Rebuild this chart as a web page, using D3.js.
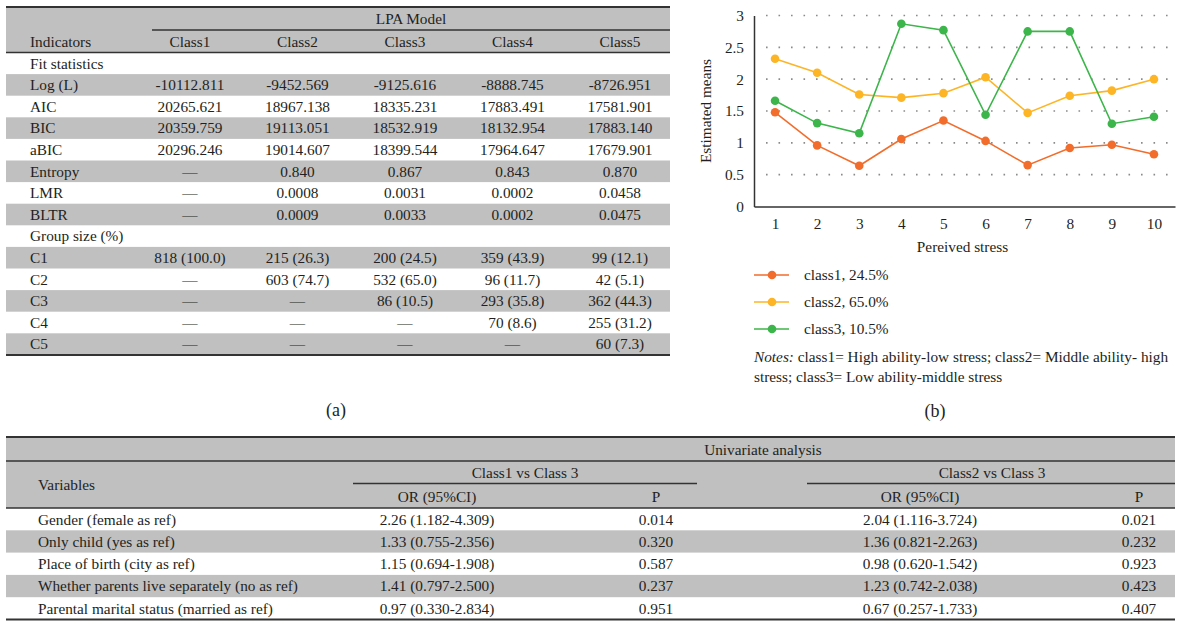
<!DOCTYPE html>
<html>
<head>
<meta charset="utf-8">
<script src="https://cdn.jsdelivr.net/npm/d3@7"></script>
<style>
  html, body { margin: 0; padding: 0; background: #fff; }
  svg text { font-family: "Liberation Serif", "DejaVu Serif", serif; fill: #231f20; }
</style>
</head>
<body>
<svg id="fig" width="1178" height="624"></svg>
<script>
// ---- (a) LPA model fit table ----
const modelColumns = ["Class1", "Class2", "Class3", "Class4", "Class5"];
const fitLabels = ["Log (L)", "AIC", "BIC", "aBIC", "Entropy", "LMR", "BLTR"];
const fitValues = [
  ["-10112.811", "-9452.569", "-9125.616", "-8888.745", "-8726.951"],
  ["20265.621", "18967.138", "18335.231", "17883.491", "17581.901"],
  ["20359.759", "19113.051", "18532.919", "18132.954", "17883.140"],
  ["20296.246", "19014.607", "18399.544", "17964.647", "17679.901"],
  ["—", "0.840", "0.867", "0.843", "0.870"],
  ["—", "0.0008", "0.0031", "0.0002", "0.0458"],
  ["—", "0.0009", "0.0033", "0.0002", "0.0475"]
];
const groupLabels = ["C1", "C2", "C3", "C4", "C5"];
const groupValues = [
  ["818 (100.0)", "215 (26.3)", "200 (24.5)", "359 (43.9)", "99 (12.1)"],
  ["—", "603 (74.7)", "532 (65.0)", "96 (11.7)", "42 (5.1)"],
  ["—", "—", "86 (10.5)", "293 (35.8)", "362 (44.3)"],
  ["—", "—", "—", "70 (8.6)", "255 (31.2)"],
  ["—", "—", "—", "—", "60 (7.3)"]
];

// ---- (b) estimated means per perceived-stress item ----
const stressItems = [1, 2, 3, 4, 5, 6, 7, 8, 9, 10];
const class1Means = [1.48, 0.96, 0.64, 1.06, 1.35, 1.03, 0.65, 0.92, 0.97, 0.82];
const class2Means = [2.32, 2.10, 1.76, 1.71, 1.78, 2.03, 1.47, 1.74, 1.82, 2.00];
const class3Means = [1.66, 1.31, 1.15, 2.87, 2.77, 1.44, 2.75, 2.75, 1.30, 1.41];
const seriesNames = ["class1, 24.5%", "class2, 65.0%", "class3, 10.5%"];
const seriesColors = ["#f26d2b", "#fdb525", "#3cb54a"];
const yTickValues = [0, 0.5, 1, 1.5, 2, 2.5, 3];

// ---- (c) univariate analysis table ----
const uniVariables = [
  "Gender (female as ref)",
  "Only child (yes as ref)",
  "Place of birth (city as ref)",
  "Whether parents live separately (no as ref)",
  "Parental marital status (married as ref)"
];
const class1vs3OR = ["2.26 (1.182-4.309)", "1.33 (0.755-2.356)", "1.15 (0.694-1.908)", "1.41 (0.797-2.500)", "0.97 (0.330-2.834)"];
const class1vs3P = ["0.014", "0.320", "0.587", "0.237", "0.951"];
const class2vs3OR = ["2.04 (1.116-3.724)", "1.36 (0.821-2.263)", "0.98 (0.620-1.542)", "1.23 (0.742-2.038)", "0.67 (0.257-1.733)"];
const class2vs3P = ["0.021", "0.232", "0.923", "0.423", "0.407"];

const svg = d3.select("#fig");
const GRAY = "#c0c0c0";
const INK = "#333";
const FS = 15.3;

function hline(g, x1, x2, y, w) {
  g.append("line").attr("x1", x1).attr("x2", x2).attr("y1", y).attr("y2", y)
    .attr("stroke", INK).attr("stroke-width", w);
}
function txt(g, x, y, s, anchor) {
  return g.append("text").attr("x", x).attr("y", y).attr("dy", "0.35em")
    .attr("text-anchor", anchor || "start").attr("font-size", FS).text(s);
}

// ================= Table (a) =================
(function () {
  const g = svg.append("g");
  const x0 = 6, x1 = 670, top = 7, sub = 30, head = 52.5, rowH = 21.6;
  const colX = d3.scalePoint().domain(modelColumns).range([190, 620]);

  const rows = [{ label: "Fit statistics", vals: null }]
    .concat(fitLabels.map((l, i) => ({ label: l, vals: fitValues[i] })))
    .concat([{ label: "Group size (%)", vals: null }])
    .concat(groupLabels.map((l, i) => ({ label: l, vals: groupValues[i] })));

  g.append("rect").attr("x", x0).attr("y", top).attr("width", x1 - x0).attr("height", head - top).attr("fill", GRAY);
  rows.forEach((r, i) => {
    const y = head + i * rowH;
    if (i % 2 === 1) g.append("rect").attr("x", x0).attr("y", y).attr("width", x1 - x0).attr("height", rowH).attr("fill", GRAY);
    txt(g, 30, y + rowH / 2, r.label);
    if (r.vals) r.vals.forEach((v, j) => txt(g, colX(modelColumns[j]), y + rowH / 2, v, "middle"));
  });
  const bottom = head + rows.length * rowH;

  txt(g, 411, (top + sub) / 2 + 0.5, "LPA Model", "middle");
  txt(g, 30, (sub + head) / 2, "Indicators");
  modelColumns.forEach(c => txt(g, colX(c), (sub + head) / 2, c, "middle"));

  hline(g, x0, x1, top, 2);
  hline(g, 152, x1, sub, 1.3);
  hline(g, x0, x1, head, 1.5);
  hline(g, x0, x1, bottom, 2);

  g.append("text").attr("x", 336).attr("y", 410).attr("dy", "0.35em").attr("text-anchor", "middle")
    .attr("font-size", 18).text("(a)");
})();

// ================= Chart (b) =================
(function () {
  const g = svg.append("g");
  const left = 754, right = 1175, y0 = 206.5, y3 = 15.5;
  const x = d3.scalePoint().domain(stressItems).range([left, right]).padding(0.5);
  const y = d3.scaleLinear().domain([0, 3]).range([y0, y3]);

  // dotted horizontal gridlines
  g.selectAll("line.grid").data(yTickValues.filter(v => v > 0)).join("line")
    .attr("class", "grid")
    .attr("x1", left + 12).attr("x2", right)
    .attr("y1", d => y(d)).attr("y2", d => y(d))
    .attr("stroke", "#8a8a8a").attr("stroke-width", 1.6)
    .attr("stroke-dasharray", "1.6,10.9");

  // y axis
  const yAxis = d3.axisLeft(y).tickValues(yTickValues).tickSize(0).tickPadding(10).tickFormat(d3.format(""));
  const ya = g.append("g").attr("transform", `translate(${left},0)`).call(yAxis);
  ya.select(".domain").attr("stroke", INK).attr("stroke-width", 1.5);
  ya.selectAll("text").attr("font-size", FS).attr("font-family", "Liberation Serif").attr("fill", "#231f20");

  // x axis
  const xAxis = d3.axisBottom(x).tickSize(0).tickPadding(12);
  const xa = g.append("g").attr("transform", `translate(0,${y0})`).call(xAxis);
  xa.select(".domain").attr("stroke", INK).attr("stroke-width", 1.5);
  xa.selectAll("text").attr("font-size", FS).attr("font-family", "Liberation Serif").attr("fill", "#231f20");

  g.append("text").attr("transform", `translate(706,${(y0 + y3) / 2}) rotate(-90)`)
    .attr("text-anchor", "middle").attr("dy", "0.35em").attr("font-size", FS).text("Estimated means");
  txt(g, (left + right) / 2 - 2, 247, "Pereived stress", "middle");

  const series = [class1Means, class2Means, class3Means];
  const line = d3.line().x((d, i) => x(stressItems[i])).y(d => y(d));
  series.forEach((s, k) => {
    g.append("path").datum(s).attr("d", line).attr("fill", "none")
      .attr("stroke", seriesColors[k]).attr("stroke-width", 1.6);
    g.selectAll(null).data(s).join("circle")
      .attr("cx", (d, i) => x(stressItems[i])).attr("cy", d => y(d)).attr("r", 4.3)
      .attr("fill", seriesColors[k]);
  });

  // legend
  seriesNames.forEach((name, k) => {
    const ly = 275 + k * 27;
    g.append("line").attr("x1", 754).attr("x2", 789).attr("y1", ly).attr("y2", ly)
      .attr("stroke", seriesColors[k]).attr("stroke-width", 1.6);
    g.append("circle").attr("cx", 772).attr("cy", ly).attr("r", 4.3).attr("fill", seriesColors[k]);
    txt(g, 804, ly, name);
  });

  const n1 = txt(g, 754, 357, "");
  n1.append("tspan").attr("font-style", "italic").text("Notes:");
  n1.append("tspan").text(" class1= High ability-low stress; class2= Middle ability- high");
  txt(g, 754, 377, "stress; class3= Low ability-middle stress");

  g.append("text").attr("x", 935).attr("y", 411).attr("dy", "0.35em").attr("text-anchor", "middle")
    .attr("font-size", 18).text("(b)");
})();

// ================= Table (c) =================
(function () {
  const g = svg.append("g");
  const x0 = 6, x1 = 1175, top = 437, l1 = 461, l2 = 483.5, head = 508, rowH = 22.3;

  g.append("rect").attr("x", x0).attr("y", top).attr("width", x1 - x0).attr("height", head - top).attr("fill", GRAY);
  uniVariables.forEach((v, i) => {
    const yy = head + i * rowH;
    if (i % 2 === 1) g.append("rect").attr("x", x0).attr("y", yy).attr("width", x1 - x0).attr("height", rowH).attr("fill", GRAY);
    const cy = yy + rowH / 2;
    txt(g, 38, cy, v);
    txt(g, 437, cy, class1vs3OR[i], "middle");
    txt(g, 656, cy, class1vs3P[i], "middle");
    txt(g, 920, cy, class2vs3OR[i], "middle");
    txt(g, 1139, cy, class2vs3P[i], "middle");
  });
  const bottom = head + uniVariables.length * rowH;

  txt(g, 763, (top + l1) / 2 + 1, "Univariate analysis", "middle");
  txt(g, 38, (l1 + head) / 2, "Variables");
  txt(g, 525, (l1 + l2) / 2 + 0.5, "Class1 vs Class 3", "middle");
  txt(g, 992, (l1 + l2) / 2 + 0.5, "Class2 vs Class 3", "middle");
  txt(g, 437, (l2 + head) / 2 + 1, "OR (95%CI)", "middle");
  txt(g, 656, (l2 + head) / 2 + 1, "P", "middle");
  txt(g, 920, (l2 + head) / 2 + 1, "OR (95%CI)", "middle");
  txt(g, 1139, (l2 + head) / 2 + 1, "P", "middle");

  hline(g, x0, x1, top, 2);
  hline(g, x0, x1, l1, 1.3);
  hline(g, 353, 697, l2, 1.3);
  hline(g, 807, x1, l2, 1.3);
  hline(g, x0, x1, head, 1.5);
  hline(g, x0, x1, bottom, 2);
})();
</script>
</body>
</html>
